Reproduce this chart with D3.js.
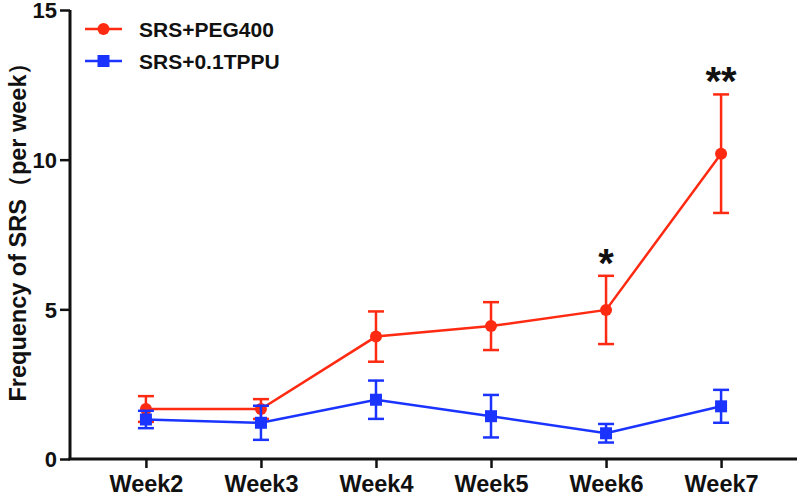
<!DOCTYPE html>
<html>
<head>
<meta charset="utf-8">
<script src="https://cdn.jsdelivr.net/npm/d3@7"></script>
<style>
  html, body { margin: 0; padding: 0; background: #fff; }
  svg { display: block; font-family: Arial, "Liberation Sans", Helvetica, sans-serif; }
</style>
</head>
<body>
<svg id="chart" width="800" height="500"></svg>
<script>
const categories = ["Week2", "Week3", "Week4", "Week5", "Week6", "Week7"];
const seriesNames = ["SRS+PEG400", "SRS+0.1TPPU"];
const pegMean = [1.67, 1.67, 4.09, 4.44, 4.98, 10.2];
const pegSem  = [0.43, 0.33, 0.84, 0.80, 1.14, 1.98];
const tppuMean = [1.32, 1.21, 1.98, 1.43, 0.86, 1.76];
const tppuSem  = [0.29, 0.57, 0.64, 0.71, 0.31, 0.55];
const significance = ["", "", "", "", "*", "**"];
const yTicks = [0, 5, 10, 15];
const yLabel = "Frequency of SRS（per week）";

const svg = d3.select("#chart");
const x = d3.scalePoint().domain(categories).range([70, 797]).padding(0.66);
const y = d3.scaleLinear().domain([0, 15]).range([459, 10]);

const colors = ["#ff2a12", "#1a33ff"];
const series = [
  { name: seriesNames[0], mean: pegMean, sem: pegSem, color: colors[0], shape: "circle" },
  { name: seriesNames[1], mean: tppuMean, sem: tppuSem, color: colors[1], shape: "square" }
];

// Axes
const yAxis = d3.axisLeft(y).tickValues(yTicks).tickSize(10).tickPadding(3).tickFormat(d3.format("d"));
const gy = svg.append("g").attr("transform", "translate(70,0)").call(yAxis);
const xAxis = d3.axisBottom(x).tickSize(9).tickPadding(8);
const gx = svg.append("g").attr("transform", "translate(0,459)").call(xAxis);

[gy, gx].forEach(g => {
  g.select(".domain").attr("stroke", "#111").attr("stroke-width", 3);
  g.selectAll(".tick line").attr("stroke", "#111").attr("stroke-width", 2.5);
  g.selectAll(".tick text").attr("fill", "#111").attr("font-weight", "bold");
});
gy.selectAll(".tick text").attr("font-size", 22).attr("dy", "0.36em");
gx.selectAll(".tick text").attr("font-size", 23.5).attr("dy", "0.68em");
gy.select(".domain").attr("d", `M0,${y(15)}V${y(0)}`);
gx.select(".domain").attr("d", `M68.5,0H797`);

// y label
svg.append("text")
  .attr("transform", `translate(26,226) rotate(-90)`)
  .attr("text-anchor", "middle")
  .attr("font-size", 23.5)
  .attr("font-weight", "bold")
  .attr("fill", "#111")
  .text(yLabel);

// Series
series.forEach(s => {
  const g = svg.append("g");
  const line = d3.line().x((d, i) => x(categories[i])).y(d => y(d));
  g.append("path").datum(s.mean).attr("d", line)
    .attr("fill", "none").attr("stroke", s.color).attr("stroke-width", 2.5);
  s.mean.forEach((m, i) => {
    const cx = x(categories[i]);
    const top = y(m + s.sem[i]), bot = y(m - s.sem[i]);
    g.append("line").attr("x1", cx).attr("x2", cx).attr("y1", top).attr("y2", bot)
      .attr("stroke", s.color).attr("stroke-width", 2.5);
    [top, bot].forEach(yy => {
      g.append("line").attr("x1", cx - 8).attr("x2", cx + 8).attr("y1", yy).attr("y2", yy)
        .attr("stroke", s.color).attr("stroke-width", 2.5);
    });
    if (s.shape === "circle") {
      g.append("circle").attr("cx", cx).attr("cy", y(m)).attr("r", 6).attr("fill", s.color);
    } else {
      g.append("rect").attr("x", cx - 6).attr("y", y(m) - 6).attr("width", 12).attr("height", 12).attr("fill", s.color);
    }
  });
});

// significance marks
significance.forEach((t, i) => {
  if (!t) return;
  svg.append("text")
    .attr("x", x(categories[i]))
    .attr("y", y(pegMean[i] + pegSem[i]) + 1)
    .attr("text-anchor", "middle")
    .attr("font-size", 40)
    .attr("font-weight", "bold")
    .attr("fill", "#111")
    .text(t);
});

// legend
const legendY = [29, 61];
series.forEach((s, i) => {
  const g = svg.append("g");
  const ly = legendY[i];
  g.append("line").attr("x1", 85).attr("x2", 122).attr("y1", ly).attr("y2", ly)
    .attr("stroke", s.color).attr("stroke-width", 2.5);
  if (s.shape === "circle") {
    g.append("circle").attr("cx", 103.5).attr("cy", ly).attr("r", 6).attr("fill", s.color);
  } else {
    g.append("rect").attr("x", 97.5).attr("y", ly - 6).attr("width", 12).attr("height", 12).attr("fill", s.color);
  }
  g.append("text").attr("x", 139).attr("y", ly + 7.5)
    .attr("font-size", 21).attr("font-weight", "bold").attr("fill", "#111")
    .text(s.name);
});
</script>
</body>
</html>
